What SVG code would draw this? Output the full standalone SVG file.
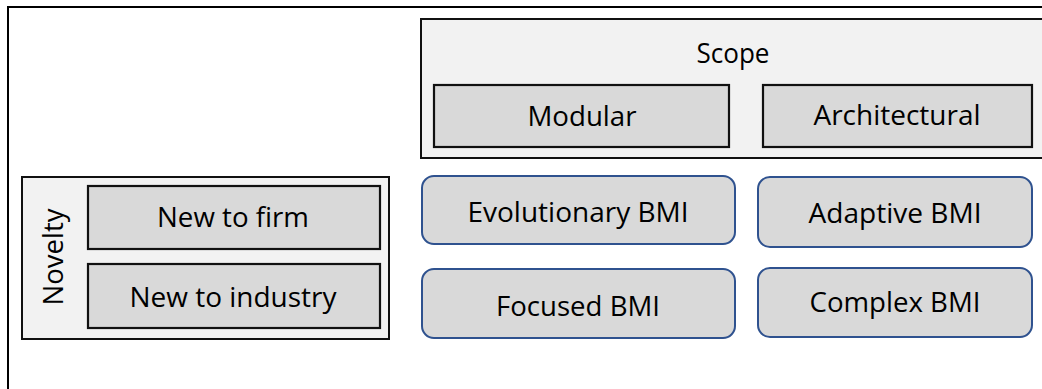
<svg xmlns="http://www.w3.org/2000/svg" width="1042" height="389" viewBox="0 0 1042 389">
<style>
.frame{fill:#FFFFFF;stroke:#000;stroke-width:2}
.grp{fill:#F2F2F2;stroke:#111;stroke-width:2}
.cat{fill:#D9D9D9;stroke:#111;stroke-width:2.2}
.bmi{fill:#D9D9D9;stroke:#2F528F;stroke-width:2}
text{font-family:"Open Sans","Noto Sans","Liberation Sans",sans-serif;font-size:28px;fill:#000;text-anchor:middle}
</style>
<rect x="0" y="0" width="1042" height="389" fill="#FFFFFF"/>
<g id="frame"><rect class="frame" x="8" y="7" width="1050" height="400"/></g>
<g id="scope">
<rect class="grp" x="421" y="19" width="640" height="139"/>
<text x="733" y="63" textLength="73" lengthAdjust="spacingAndGlyphs">Scope</text>
</g>
<g id="modular">
<rect class="cat" x="434" y="85" width="295" height="62"/>
<text x="582" y="126" textLength="109" lengthAdjust="spacingAndGlyphs">Modular</text>
</g>
<g id="architectural">
<rect class="cat" x="763" y="85" width="269" height="62"/>
<text x="897" y="125" textLength="167" lengthAdjust="spacingAndGlyphs">Architectural</text>
</g>
<g id="novelty">
<rect class="grp" x="22" y="177" width="367" height="162"/>
<text transform="translate(63,257) rotate(-90)" textLength="97" lengthAdjust="spacingAndGlyphs">Novelty</text>
</g>
<g id="new-to-firm">
<rect class="cat" x="88" y="186" width="292" height="63"/>
<text x="233" y="227" textLength="152" lengthAdjust="spacingAndGlyphs">New to firm</text>
</g>
<g id="new-to-industry">
<rect class="cat" x="88" y="264" width="292" height="64"/>
<text x="233" y="307" textLength="207" lengthAdjust="spacingAndGlyphs">New to industry</text>
</g>
<g id="evolutionary">
<rect class="bmi" x="422" y="176" width="313" height="68" rx="12"/>
<text x="578" y="222" textLength="221" lengthAdjust="spacingAndGlyphs">Evolutionary BMI</text>
</g>
<g id="adaptive">
<rect class="bmi" x="758" y="177" width="274" height="70" rx="12"/>
<text x="895" y="223" textLength="173" lengthAdjust="spacingAndGlyphs">Adaptive BMI</text>
</g>
<g id="focused">
<rect class="bmi" x="422" y="269" width="313" height="69" rx="12"/>
<text x="578" y="316" textLength="164" lengthAdjust="spacingAndGlyphs">Focused BMI</text>
</g>
<g id="complex">
<rect class="bmi" x="758" y="268" width="274" height="69" rx="12"/>
<text x="895" y="312" textLength="171" lengthAdjust="spacingAndGlyphs">Complex BMI</text>
</g>
<g id="connectors"></g>
</svg>
